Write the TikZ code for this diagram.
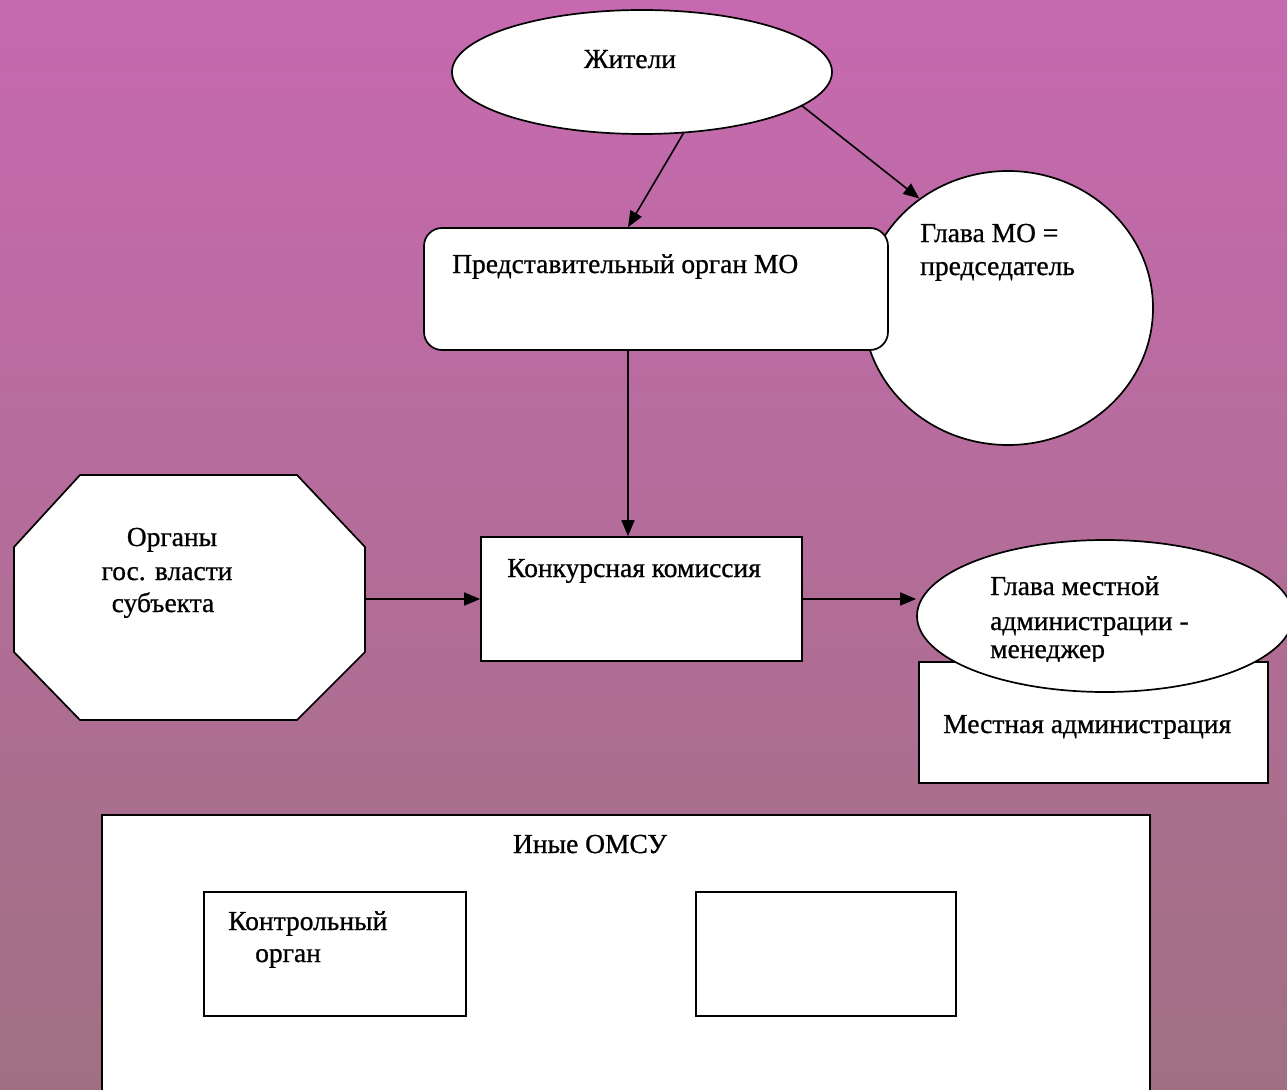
\documentclass[tikz,border=0pt]{standalone}
\usepackage{fontspec}
\setmainfont{Liberation Serif}
\newfontfamily\lblfont{Liberation Serif}[FakeBold=0.8]
\usetikzlibrary{shapes.geometric,arrows.meta,calc}
\definecolor{bgtop}{RGB}{199,105,176}
\definecolor{bgbot}{RGB}{160,112,130}
\tikzset{
  box/.style={draw=black, line width=1.7pt, fill=white, inner sep=0pt},
  oval/.style={box, ellipse},
  arr/.style={draw=black, line width=1.6pt, -{Triangle[length=16pt,width=13pt]}},
  lbl/.style={font=\lblfont\fontsize{27.5}{33}\selectfont, inner sep=0pt, text=black},
}
\begin{document}
\begin{tikzpicture}[x=1pt,y=-1pt]
\clip (0,0) rectangle (1287,1089);
\shade[top color=bgtop, bottom color=bgbot] (0,0) rectangle (1287,1089);

% top
\node[oval, minimum width=380pt, minimum height=124pt] (zhit) at (642,72) {};
\node[oval, minimum width=290pt, minimum height=274pt] (glava) at (1008,308) {};
\node[box, rounded corners=18pt, minimum width=464pt, minimum height=122pt] (pred) at (656,289) {};

% octagon
\filldraw[fill=white, draw=black, line width=1.7pt]
  (80,475) -- (297,475) -- (365,547) -- (365,652) -- (297,720) -- (80,720) -- (14,652) -- (14,547) -- cycle;
\node[minimum width=351pt, minimum height=245pt, inner sep=0pt] (org) at (189.5,599) {};

\node[box, minimum width=321pt, minimum height=124pt] (konk) at (641.5,599) {};
\node[box, minimum width=349pt, minimum height=121pt] (ma) at (1093.5,722.5) {};
\node[oval, minimum width=376pt, minimum height=152pt] (glm) at (1105,616) {};

% bottom
\node[box, minimum width=1048pt, minimum height=285pt] (big) at (626,957.5) {};
\node[box, minimum width=262pt, minimum height=124pt] (s1) at (335,954) {};
\node[box, minimum width=260pt, minimum height=124pt] (s2) at (826,954) {};

% arrows
\draw[arr] (zhit.-56) -- ([xshift=-28pt]pred.north);
\draw[arr] (zhit.-12.5) -- (glava.129);
\coordinate (ax) at ($(pred.south)+(-28,0)$);
\draw[arr] (ax) -- (ax |- konk.north);
\draw[arr] (org.east) -- (org.east -| konk.west);
\draw[arr] (konk.east) -- (konk.east -| glm.west);

% texts
\node[lbl, anchor=base] (t1) at (630,68) {Жители};
\node[lbl, anchor=base west] (t2) at (452,273) {Представительный орган МО};
\node[lbl, anchor=base west] (t3) at (920,242) {Глава МО =};
\node[lbl, anchor=base west] (t4) at (920,275) {председатель};
\node[lbl, anchor=base] (t5) at (172,546) {Органы};
\node[lbl, anchor=base] (t6) at (167,580) {гос. власти};
\node[lbl, anchor=base] (t7) at (163,612) {субъекта};
\node[lbl, anchor=base west] (t8) at (507,577) {Конкурсная комиссия};
\node[lbl, anchor=base west] (t9) at (990,595) {Глава местной};
\node[lbl, anchor=base west] (t10) at (990,630) {администрации -};
\begin{scope}
  \clip (900,640) rectangle (1287,661.5);
  \node[lbl, anchor=base west] (t11) at (990,658) {менеджер};
\end{scope}
\node[lbl, anchor=base west] (t12) at (943,733) {Местная администрация};
\node[lbl, anchor=base] (t13) at (590,853) {Иные ОМСУ};
\node[lbl, anchor=base west] (t14) at (228,930) {Контрольный};
\node[lbl, anchor=base west] (t15) at (255,962) {орган};
\end{tikzpicture}
\end{document}
